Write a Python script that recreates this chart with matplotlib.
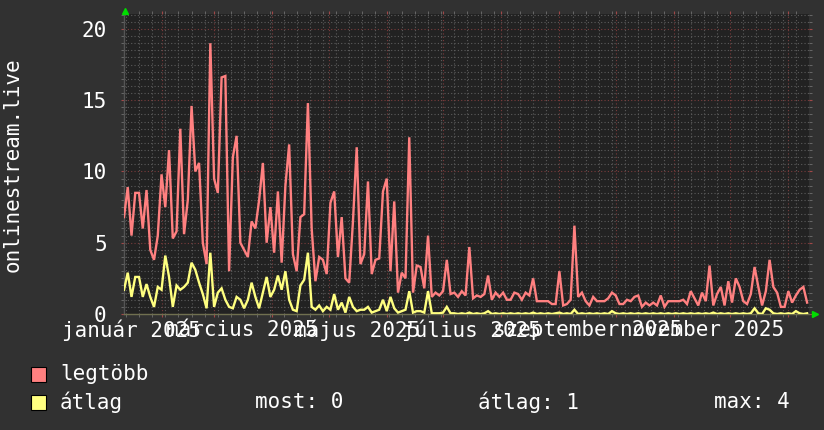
import numpy as np
import matplotlib
matplotlib.use("Agg")
import matplotlib.pyplot as plt
from matplotlib.patches import Rectangle
from matplotlib.lines import Line2D
import matplotlib.transforms as mtransforms

plt.rcParams['font.family'] = ['DejaVu Sans Mono', 'DejaVu Sans']

# ---- data (one sample every 2 days starting 2025-01-12) ----
start_date = "2025-01-12"
end_date = "2026-01-12"
step_days = 2

legtobb = [
    6.8, 8.9, 5.5, 8.5, 8.5, 6.0, 8.7, 4.5, 3.8, 5.5,
    9.8, 7.5, 11.5, 5.3, 5.8, 13.0, 5.6, 8.0, 14.6, 10.0,
    10.6, 5.0, 3.5, 19.0, 9.5, 8.5, 16.6, 16.7, 3.0, 11.0,
    12.5, 5.0, 4.5, 4.0, 6.5, 6.0, 8.0, 10.6, 5.0, 7.5,
    4.3, 8.6, 3.6, 9.0, 11.9, 4.2, 3.0, 6.8, 7.0, 14.8,
    6.0, 2.3, 4.0, 3.8, 2.8, 7.8, 8.6, 4.0, 6.8, 2.5,
    2.2, 6.5, 11.7, 3.5, 4.2, 9.3, 2.8, 3.8, 3.9, 8.6,
    9.5, 3.0, 7.9, 1.5, 2.9, 2.5, 12.4, 1.5, 3.4, 3.3,
    1.8, 5.5, 1.2, 1.5, 1.3, 1.6, 3.8, 1.4, 1.5, 1.2,
    1.6, 1.3, 4.7, 1.1, 1.3, 1.2, 1.4, 2.7, 1.0, 1.5,
    1.2, 1.5, 1.0, 1.0, 1.5, 1.4, 1.0, 1.5, 1.3, 2.5,
    0.9, 0.9, 0.9, 0.9, 0.7, 0.7, 3.0, 0.6, 0.7, 1.0,
    6.2, 1.2, 1.5, 0.9, 0.6, 1.2, 0.9, 0.9, 0.9, 1.1,
    1.5, 1.3, 0.7, 0.7, 1.0, 0.9, 1.2, 1.3, 0.5, 0.8,
    0.6, 0.8, 0.6, 1.3, 0.5, 0.9, 0.9, 0.9, 0.9, 1.0,
    0.7, 1.6, 1.1, 0.6, 1.5, 0.9, 3.4, 0.6, 1.4, 1.9,
    0.6, 2.3, 0.8, 2.5, 1.9, 0.9, 0.7, 1.4, 3.3, 1.9,
    0.6, 1.6, 3.8, 1.9, 1.5, 0.5, 0.5, 1.6, 0.8, 1.3,
    1.7, 1.9, 0.8,
]

atlag = [
    1.7, 2.9, 1.2, 2.6, 2.6, 1.2, 2.1, 1.2, 0.5, 1.9,
    1.7, 4.1, 2.6, 0.5, 2.0, 1.7, 1.9, 2.2, 3.6, 3.1,
    2.2, 1.4, 0.4, 4.3, 0.5, 1.5, 1.8, 1.0, 0.5, 0.4,
    1.2, 1.0, 0.4, 1.0, 2.2, 1.2, 0.4, 1.5, 2.6, 1.2,
    1.7, 2.7, 1.7, 3.0, 1.0, 0.3, 0.2, 2.0, 2.4, 4.3,
    0.5, 0.3, 0.6, 0.2, 0.5, 0.3, 1.4, 0.3, 0.8, 0.1,
    1.2, 0.5, 0.2, 0.3, 0.3, 0.5, 0.1, 0.2, 0.3, 1.0,
    0.2, 1.2, 0.4, 0.1, 0.2, 0.3, 1.6, 0.1, 0.2, 0.2,
    0.1, 1.6, 0.05, 0.05, 0.05, 0.1, 0.5, 0.05, 0.05, 0.0,
    0.05, 0.0, 0.1, 0.0, 0.05, 0.0, 0.05, 0.2, 0.0, 0.05,
    0.0, 0.05, 0.0, 0.05, 0.0, 0.05, 0.0, 0.05, 0.0, 0.1,
    0.0, 0.05, 0.0, 0.05, 0.0, 0.05, 0.1, 0.0, 0.05, 0.0,
    0.3, 0.0, 0.05, 0.0, 0.05, 0.0, 0.05, 0.0, 0.05, 0.0,
    0.2, 0.05, 0.0, 0.05, 0.0, 0.05, 0.0, 0.05, 0.0, 0.05,
    0.0, 0.05, 0.0, 0.05, 0.0, 0.05, 0.0, 0.05, 0.0, 0.05,
    0.0, 0.05, 0.0, 0.05, 0.0, 0.05, 0.0, 0.1, 0.0, 0.05,
    0.0, 0.05, 0.0, 0.05, 0.0, 0.05, 0.0, 0.05, 0.4, 0.05,
    0.0, 0.4, 0.3, 0.05, 0.0, 0.05, 0.0, 0.05, 0.0, 0.2,
    0.05, 0.0, 0.05,
]

label_months = ["2025-01", "2025-03", "2025-05", "2025-07", "2025-09", "2025-11"]
label_texts = ["január 2025", "március 2025", "május 2025",
               "július 2025", "szeptember 2025", "november 2025"]
y_ticks = [0, 5, 10, 15, 20]
y_max = 21.05
ylabel = "onlinestream.live"
legend_names = ["legtöbb", "átlag"]
stats = ["most: 0", "átlag: 1", "max: 4"]

# ---- styles ----
BG = "#313131"
PLOT_BG = "#222222"
RED = "#ff8080"
YEL = "#ffff80"
TXT = "#ffffff"
FS = 15

W, H = 824, 430
fig = plt.figure(figsize=(W / 100, H / 100), dpi=100, facecolor=BG)
ax = fig.add_axes([124 / W, 1 - 314 / H, (809 - 124) / W, (314 - 14) / H])
ax.set_facecolor(PLOT_BG)

t0 = np.datetime64(start_date)
t1 = np.datetime64(end_date)
x = t0 + np.arange(len(legtobb)) * np.timedelta64(step_days, 'D')
x2 = t0 + np.arange(len(atlag)) * np.timedelta64(step_days, 'D')

ax.plot(x, legtobb, color=RED, lw=1.7, solid_joinstyle='miter', zorder=3)
ax.plot(x2, atlag, color=YEL, lw=1.7, solid_joinstyle='miter', zorder=4)

ax.set_xlim(t0, t1)
ax.set_ylim(0, y_max)

# grid: monthly (major, red) and weekly (minor, gray)
month_starts = np.arange(np.datetime64("2025-02"), np.datetime64("2026-02"),
                         np.timedelta64(1, 'M')).astype('datetime64[D]')
mondays = np.arange(np.datetime64("2025-01-13"), t1, np.timedelta64(7, 'D'))
ax.set_xticks(month_starts)
ax.set_xticks(mondays, minor=True)
ax.set_xticklabels([])
ax.set_yticks(y_ticks)
ax.set_yticks(np.arange(0, y_max, 0.5), minor=True)
ax.set_yticklabels([str(v) for v in y_ticks], fontsize=FS, color=TXT)

ax.grid(which='minor', color='#5c5c5c', linestyle=(0, (1, 2)), linewidth=0.8, zorder=1)
ax.grid(which='major', color='#7a3c3c', linestyle=(0, (1, 2)), linewidth=0.8, zorder=1)
ax.set_axisbelow(True)

ax.tick_params(axis='x', which='major', direction='out', length=2.5, color='#a04848',
               top=True, bottom=True)
ax.tick_params(axis='x', which='minor', direction='out', length=2.5, color='#707070',
               top=True, bottom=True)
ax.tick_params(axis='y', which='both', direction='out', length=2.5, color='#707070',
               left=True, right=True, pad=10)
ax.tick_params(axis='y', which='major', color='#a04848')

for s in ['top', 'right']:
    ax.spines[s].set_visible(False)
ax.spines['left'].set_color('#555555')
ax.spines['bottom'].set_color('#707050')
ax.spines['left'].set_linewidth(1)
ax.spines['bottom'].set_linewidth(1)

# x labels at mid-month
trans = mtransforms.blended_transform_factory(ax.transData, ax.transAxes)
for m, t in zip(label_months, label_texts):
    pos = np.datetime64(m + "-16")
    ax.text(pos, -16 / 300, t, transform=trans, ha='center', va='center',
            fontsize=FS, color=TXT, clip_on=False)

# y label
fig.text(13 / W, 1 - 165 / H, ylabel, rotation=90, ha='center', va='center',
         fontsize=FS, color=TXT)

# arrows
fig.add_artist(Line2D([125.5 / W], [1 - 10.5 / H], marker='^', markersize=5,
                      color='#00dd00', transform=fig.transFigure))
fig.add_artist(Line2D([814.5 / W], [1 - 314 / H], marker='>', markersize=5,
                      color='#00dd00', transform=fig.transFigure))

# legend
rows_y = [374, 402]
for name, col, yy in zip(legend_names, [RED, YEL], rows_y):
    fig.add_artist(Rectangle((31 / W, 1 - (yy + 7.5) / H), 15 / W, 15 / H,
                             facecolor=col, edgecolor='#000000', linewidth=0.8,
                             transform=fig.transFigure))
    fig.text(60 / W, 1 - yy / H, name, ha='left', va='center', fontsize=FS, color=TXT)
for s, xx in zip(stats, [255, 478, 714]):
    fig.text(xx / W, 1 - rows_y[1] / H, s, ha='left', va='center', fontsize=FS, color=TXT)

fig.savefig("out.png", dpi=100, facecolor=BG)
